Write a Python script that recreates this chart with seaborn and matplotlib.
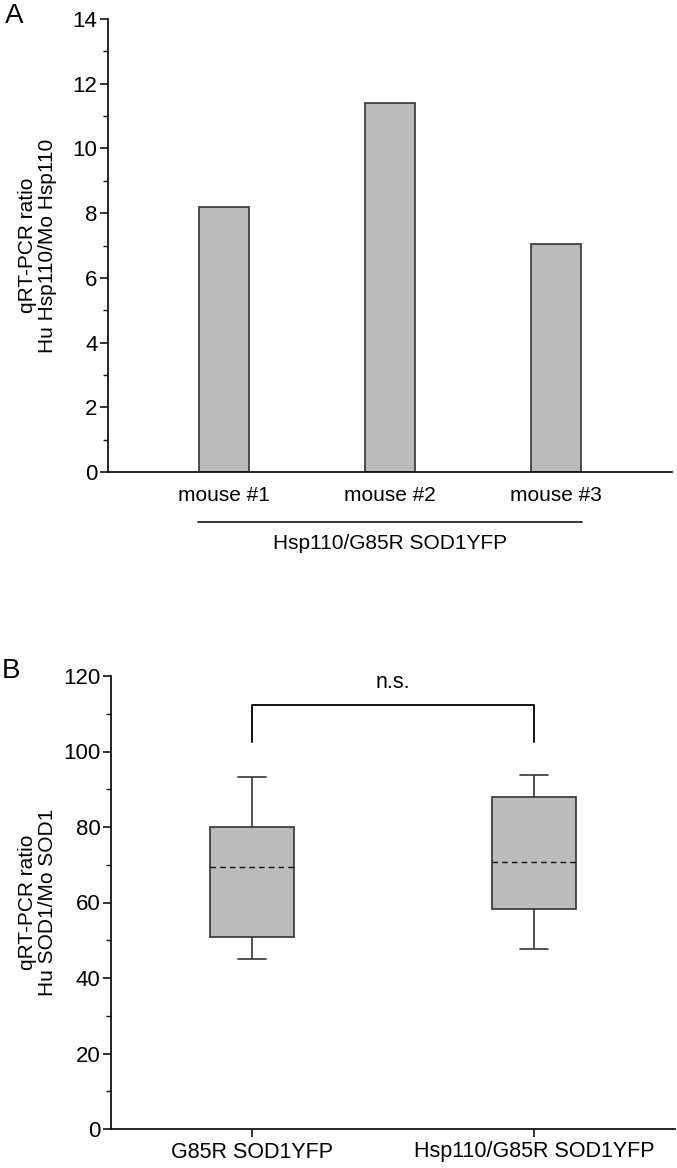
import numpy as np
import pandas as pd
import matplotlib
matplotlib.use("Agg")
import matplotlib.pyplot as plt
import matplotlib.transforms as mtransforms
from matplotlib.ticker import MultipleLocator
import seaborn as sns

sns.set_theme(style='ticks')
plt.rcParams['font.family'] = ['Liberation Sans', 'DejaVu Sans']
plt.rcParams['text.color'] = '#000000'
plt.rcParams['axes.labelcolor'] = '#000000'
plt.rcParams['xtick.labelcolor'] = '#000000'
plt.rcParams['ytick.labelcolor'] = '#000000'

# panel A data
mice = ['mouse #1', 'mouse #2', 'mouse #3']
hsp110_ratio = [8.2, 11.4, 7.05]

# panel B data: whisker low, q1, median, q3, whisker high
groups = ['G85R SOD1YFP', 'Hsp110/G85R SOD1YFP']
g85r_stats = [45.0, 50.9, 69.4, 80.0, 93.2]
hsp_g85r_stats = [47.7, 58.3, 70.7, 87.9, 93.8]

FILL = '#bbbbbb'
EDGE = '#333333'

fig = plt.figure(figsize=(6.77, 11.68), dpi=100)
axA = fig.add_axes([108 / 677, 1 - 472 / 1168, (672 - 108) / 677, (472 - 19) / 1168])
axB = fig.add_axes([111 / 677, 1 - 1129 / 1168, (675 - 111) / 677, (1129 - 676) / 1168])

def style_axis(ax):
    sns.despine(ax=ax)
    for s in ['left', 'bottom']:
        ax.spines[s].set_linewidth(1.3)
        ax.spines[s].set_color('#111111')
    ax.tick_params(axis='y', which='major', length=6, width=1.2, labelsize=16, pad=1.5,
                   color='#111111', labelcolor='#000000')
    ax.tick_params(axis='y', which='minor', length=3.5, width=1.0, color='#111111')
    ax.set_xlabel('')

# ---- panel A ----
dfA = pd.DataFrame({'mouse': mice, 'ratio': hsp110_ratio})
sns.barplot(data=dfA, x='mouse', y='ratio', ax=axA, color=FILL, width=0.3,
            edgecolor=EDGE, linewidth=1.2, saturation=1)
axA.set_xlim(-0.7, 2.7)
axA.set_ylim(0, 14)
axA.yaxis.set_major_locator(MultipleLocator(2))
axA.yaxis.set_minor_locator(MultipleLocator(1))
style_axis(axA)
axA.tick_params(axis='x', length=0, labelsize=15, pad=10, labelcolor='#000000')
axA.set_ylabel('qRT-PCR ratio\nHu Hsp110/Mo Hsp110', fontsize=15, linespacing=1.1)
axA.yaxis.set_label_coords(-0.09, 0.5)
trA = mtransforms.blended_transform_factory(axA.transData, axA.transAxes)
axA.plot([-0.16, 2.16], [-0.110, -0.110], color='#111111', lw=1.2,
         transform=trA, clip_on=False)
axA.text(1, -0.158, 'Hsp110/G85R SOD1YFP', transform=trA, ha='center',
         va='center', fontsize=15)

# ---- panel B ----
rowsB = [(groups[0], v) for v in g85r_stats] + [(groups[1], v) for v in hsp_g85r_stats]
dfB = pd.DataFrame(rowsB, columns=['group', 'ratio'])
sns.boxplot(data=dfB, x='group', y='ratio', ax=axB, color=FILL, width=0.3,
            whis=(0, 100), saturation=1, linecolor=EDGE, linewidth=1.2,
            showfliers=False,
            medianprops=dict(linestyle=(0, (4, 3)), color='#111111', linewidth=1.0))
# shorten caps
for line in axB.lines:
    xd = np.asarray(line.get_xdata(), dtype=float)
    yd = np.asarray(line.get_ydata(), dtype=float)
    if len(xd) == 2 and yd[0] == yd[1] and abs(xd[1] - xd[0]) < 0.25:
        c = xd.mean()
        line.set_xdata([c - 0.05, c + 0.05])
axB.set_xlim(-0.5, 1.5)
axB.set_ylim(0, 120)
axB.yaxis.set_major_locator(MultipleLocator(20))
axB.yaxis.set_minor_locator(MultipleLocator(10))
style_axis(axB)
axB.tick_params(axis='x', length=6, width=1.2, labelsize=15.5, pad=3,
                color='#111111', labelcolor='#000000')
axB.set_ylabel('qRT-PCR ratio\nHu SOD1/Mo SOD1', fontsize=15, linespacing=1.1)
axB.yaxis.set_label_coords(-0.095, 0.5)
axB.plot([0, 0, 1, 1], [102.5, 112.3, 112.3, 102.5], color='#111111', lw=1.4)
axB.text(0.5, 115.5, 'n.s.', ha='center', va='bottom', fontsize=15.5)

fig.text(5 / 677, 1 - 16 / 1168, 'A', fontsize=20, ha='left', va='center')
fig.text(2 / 677, 1 - 671 / 1168, 'B', fontsize=20, ha='left', va='center')

fig.savefig('out.png', dpi=100)
